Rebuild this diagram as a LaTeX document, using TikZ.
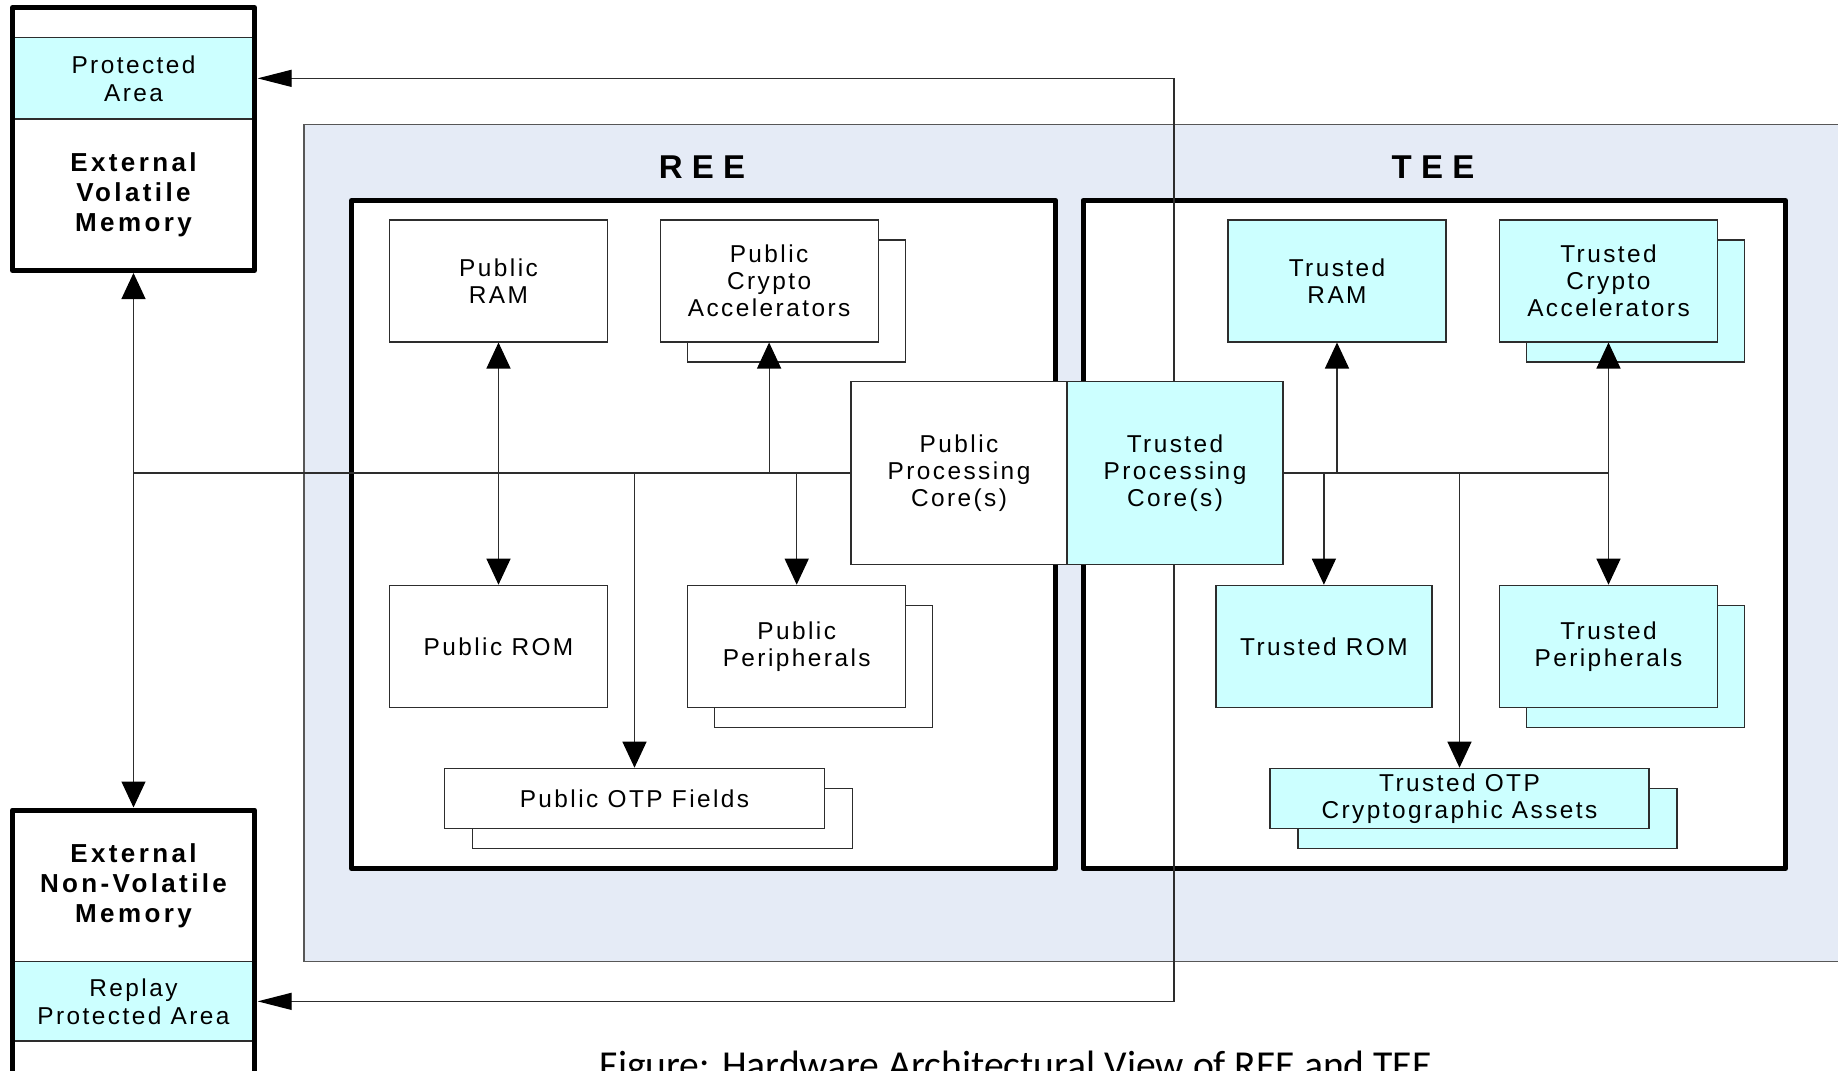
\documentclass[tikz,border=0pt]{standalone}
\usepackage{fontspec}
\setmainfont{Liberation Sans}
\newfontfamily\labelfont[LetterSpace=10]{Liberation Sans}
\newfontfamily\headfont[LetterSpace=13]{Liberation Sans}
\newfontfamily\zonefont[LetterSpace=28]{Liberation Sans}
\newfontfamily\capfont{Carlito}
\usetikzlibrary{arrows.meta}

\definecolor{teecyan}{RGB}{204,255,255}
\definecolor{zonebg}{RGB}{229,235,246}
\definecolor{wirecol}{RGB}{45,45,45}

\tikzset{
  unitbox/.style={draw=wirecol, line width=0.6pt, fill=white, minimum width=109pt,
    minimum height=61pt, align=center, inner sep=0pt,
    font=\labelfont\fontsize{12.2}{13.5}\selectfont},
  trustbox/.style={unitbox, fill=teecyan},
  corebox/.style={unitbox, minimum width=108pt, minimum height=91.3pt},
  otpbox/.style={unitbox, minimum width=190pt, minimum height=30pt},
  zoneframe/.style={draw=black, line width=2.5pt, fill=white, line join=round},
  memframe/.style={draw=black, line width=2.5pt, line join=round, minimum width=121pt},
  memband/.style={draw=wirecol, line width=0.6pt, fill=teecyan, minimum width=121pt,
    align=center, inner sep=0pt, font=\labelfont\fontsize{12.2}{14}\selectfont},
  memtitle/.style={align=center, inner sep=0pt,
    font=\headfont\bfseries\fontsize{13}{15}\selectfont},
  zonetitle/.style={inner sep=0pt, font=\zonefont\bfseries\fontsize{16.5}{18}\selectfont},
  wire/.style={draw=wirecol, line width=0.6pt},
  arr/.style={wire, -{Triangle[length=13pt,width=12pt,color=black]}},
  darr/.style={wire, {Triangle[length=13pt,width=12pt,color=black]}-{Triangle[length=13pt,width=12pt,color=black]}},
  longarr/.style={wire, {Triangle[length=17pt,width=8.5pt,color=black]}-{Triangle[length=17pt,width=8.5pt,color=black]}}
}

\begin{document}
\begin{tikzpicture}[x=0.5pt, y=-0.5pt]
\useasboundingbox (0,0) rectangle (1838,1071);

% ---- external volatile memory ----
\fill[white] (12.5,7.5) rectangle (254.5,270.5);
\node[memband, minimum height=40.65pt] (prot) at (133.5,78.35) {Protected\\Area};
\node[memframe, minimum height=131.5pt] (volmem) at (133.5,139) {};
\node[memtitle] (voltext) at (133.5,194.8) {External\\Volatile\\Memory};

% ---- external non-volatile memory ----
\fill[white] (12.5,810) rectangle (254.5,1085);
\node[memband, minimum height=39.65pt] (replay) at (133.5,1001.35) {Replay\\Protected Area};
\node[memframe, minimum height=137.5pt] (nvmem) at (133.5,947.5) {};
\node[memtitle] (nvtext) at (133.5,885.5) {External\\Non-Volatile\\Memory};

% ---- SoC area ----
\fill[zonebg] (304,124.3) rectangle (1850,961.7);
\draw[wire, draw=wirecol!80] (1850,124.3) -- (304,124.3) -- (304,961.7) -- (1850,961.7);

\node[zoneframe, minimum width=352.1pt, minimum height=334pt] (ree) at (703.6,534.5) {};
\node[zoneframe, minimum width=351.25pt, minimum height=334pt] (tee) at (1434.25,534.5) {};
\node[zonetitle] (reetitle) at (702,167) {REE};
\node[zonetitle] (teetitle) at (1433,167) {TEE};

% trunk to the protected areas of both memories
\coordinate (trunk) at (1174,0);
\draw[longarr] ([xshift=1.25pt]prot.east) -- (prot.east -| trunk)
  -- (replay.east -| trunk) -- ([xshift=1.25pt]replay.east);

% ---- processing cores ----
\node[corebox] (pubcore) at (959,473) {Public\\Processing\\Core(s)};
\node[corebox, fill=teecyan] (trustcore) at (1175,473) {Trusted\\Processing\\Core(s)};

% ---- REE units ----
\node[unitbox] (pubram) at (498.5,280.9) {Public\\RAM};
\node[unitbox] (pubcryptoB) at (796.1,300.9) {};
\node[unitbox] (pubcrypto) at (769.1,280.9) {Public\\Crypto\\Accelerators};
\node[unitbox] (pubrom) at (498.5,646.3) {Public ROM};
\node[unitbox] (pubperiphB) at (823.7,666.3) {};
\node[unitbox] (pubperiph) at (796.7,646.3) {Public\\Peripherals};
\node[otpbox] (pubotpB) at (662.5,818.3) {};
\node[otpbox] (pubotp) at (634.5,798.3) {Public OTP Fields};

% ---- TEE units ----
\node[trustbox] (trustram) at (1337,280.9) {Trusted\\RAM};
\node[trustbox] (trustcryptoB) at (1635.5,300.9) {};
\node[trustbox] (trustcrypto) at (1608.5,280.9) {Trusted\\Crypto\\Accelerators};
\node[trustbox, minimum width=108pt] (trustrom) at (1323.9,646.3) {Trusted ROM};
\node[trustbox] (trustperiphB) at (1635.5,666.3) {};
\node[trustbox] (trustperiph) at (1608.5,646.3) {Trusted\\Peripherals};
\node[otpbox, fill=teecyan, minimum width=189.5pt] (trustotpB) at (1487.5,818.3) {};
\node[otpbox, fill=teecyan, minimum width=189.5pt] (trustotp) at (1459.5,798.3) {Trusted OTP\\Cryptographic Assets};

% ---- public bus ----
\draw[darr] (volmem.south) -- (nvmem.north);
\draw[wire] (volmem.south |- pubcore.west) -- (pubcore.west);
\draw[darr] (pubram.south) -- (pubrom.north);
\draw[arr] (pubcrypto.south |- pubcore.west) -- (pubcrypto.south);
\draw[arr] (pubperiph.north |- pubcore.west) -- (pubperiph.north);
\draw[arr] (pubotp.north |- pubcore.west) -- (pubotp.north);

% ---- trusted bus ----
\draw[wire] (trustcore.east) -- (trustcrypto.south |- trustcore.east);
\draw[arr] (trustram.south |- trustcore.east) -- (trustram.south);
\draw[arr] (trustrom.north |- trustcore.east) -- (trustrom.north);
\draw[arr] (trustotp.north |- trustcore.east) -- (trustotp.north);
\draw[darr] (trustcrypto.south) -- (trustperiph.north);

% ---- caption ----
\node[anchor=base, inner sep=0pt, font=\capfont\fontsize{19.8}{22}\selectfont] (caption)
  at (1015.7,1078) {Figure: Hardware Architectural View of REE and TEE};
\end{tikzpicture}
\end{document}
